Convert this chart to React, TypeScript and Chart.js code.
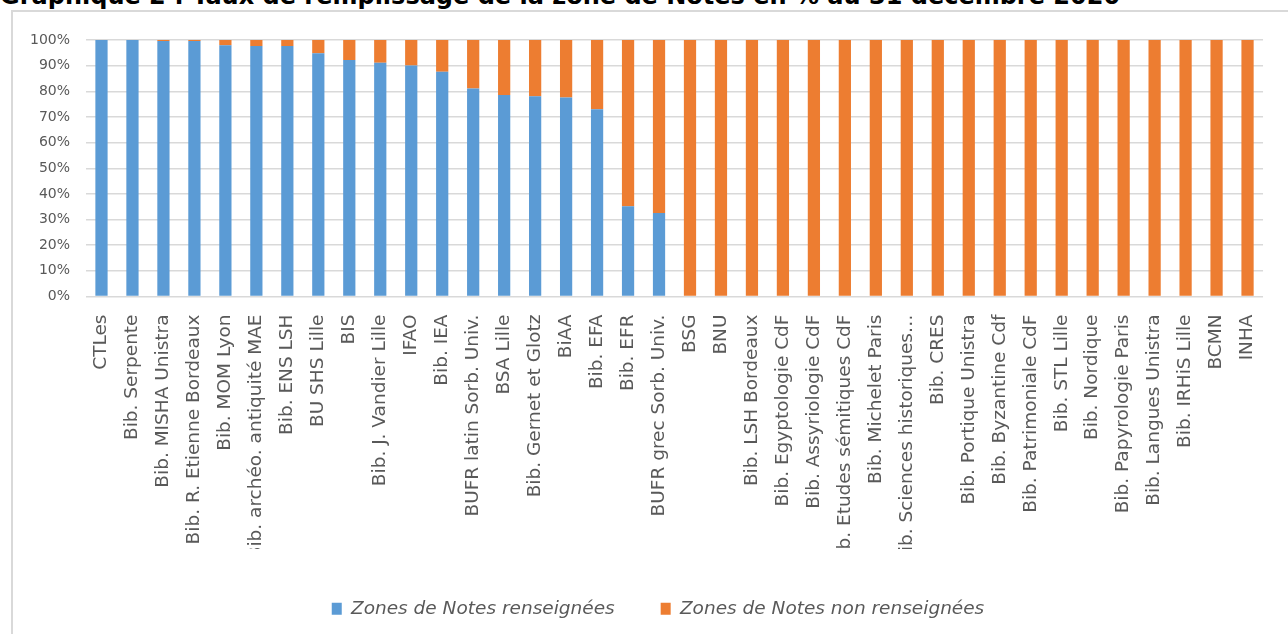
import React, { useEffect, useRef } from "react";
import { Chart, registerables } from "chart.js";

Chart.register(...registerables);

const TITLE = "Graphique 2 : Taux de remplissage de la zone de Notes en % au 31 décembre 2020";

const categories = [
  "CTLes",
  "Bib. Serpente",
  "Bib. MISHA Unistra",
  "Bib. R. Etienne Bordeaux",
  "Bib. MOM Lyon",
  "Bib. archéo. antiquité MAE",
  "Bib. ENS LSH",
  "BU SHS Lille",
  "BIS",
  "Bib. J. Vandier Lille",
  "IFAO",
  "Bib. IEA",
  "BUFR latin Sorb. Univ.",
  "BSA Lille",
  "Bib. Gernet et Glotz",
  "BiAA",
  "Bib. EFA",
  "Bib. EFR",
  "BUFR grec Sorb. Univ.",
  "BSG",
  "BNU",
  "Bib. LSH Bordeaux",
  "Bib. Egyptologie CdF",
  "Bib. Assyriologie CdF",
  "Bib. Etudes sémitiques CdF",
  "Bib. Michelet Paris",
  "Bib. Sciences historiques…",
  "Bib. CRES",
  "Bib. Portique Unistra",
  "Bib. Byzantine Cdf",
  "Bib. Patrimoniale CdF",
  "Bib. STL Lille",
  "Bib. Nordique",
  "Bib. Papyrologie Paris",
  "Bib. Langues Unistra",
  "Bib. IRHiS Lille",
  "BCMN",
  "INHA",
];

const renseignees = [
  100, 100, 99.6, 99.6, 98.0, 97.7, 97.7, 94.8, 92.2, 91.1, 90.1, 87.6, 81.1, 78.6, 78.1, 77.6, 73.0, 35.2, 32.6,
  0, 0, 0, 0, 0, 0, 0, 0, 0, 0, 0, 0, 0, 0, 0, 0, 0, 0, 0,
];

const nonRenseignees = [
  0, 0, 0.4, 0.4, 2.0, 2.3, 2.3, 5.2, 7.8, 8.9, 9.9, 12.4, 18.9, 21.4, 21.9, 22.4, 27.0, 64.8, 67.4,
  100, 100, 100, 100, 100, 100, 100, 100, 100, 100, 100, 100, 100, 100, 100, 100, 100, 100, 100,
];

const seriesNames = ["Zones de Notes renseignées", "Zones de Notes non renseignées"];
const yTicks = [0, 10, 20, 30, 40, 50, 60, 70, 80, 90, 100];

export default function App() {
  const canvasRef = useRef<HTMLCanvasElement | null>(null);

  useEffect(() => {
    const canvas = canvasRef.current;
    if (!canvas) return;
    const legendShift = {
      id: "legendShift",
      afterLayout(chart: any) {
        const lg = chart.legend;
        if (!lg) return;
        const target = 658;
        const d = target - (lg.left + lg.right) / 2;
        lg.left += d;
        lg.right += d;
      },
    };
    // the labels area is cut off at its lower edge, as in the original
    const labelClip = {
      id: "labelClip",
      afterDraw(chart: any) {
        const ctx = chart.ctx;
        const xs = chart.scales.x;
        ctx.save();
        ctx.fillStyle = "#ffffff";
        ctx.fillRect(xs.left, 549, xs.right - xs.left, 30);
        ctx.restore();
      },
    };
    const chart = new Chart(canvas, {
      type: "bar",
      data: {
        labels: categories,
        datasets: [
          {
            label: seriesNames[0],
            data: renseignees,
            backgroundColor: "#5B9BD5",
            barPercentage: 0.395,
            categoryPercentage: 1,
          },
          {
            label: seriesNames[1],
            data: nonRenseignees,
            backgroundColor: "#ED7D31",
            barPercentage: 0.395,
            categoryPercentage: 1,
          },
        ],
      },
      options: {
        responsive: false,
        animation: false,
        devicePixelRatio: 1,
        layout: { padding: { top: 40, right: 20, bottom: 6, left: 0 } },
        plugins: {
          title: { display: false },
          tooltip: { enabled: false },
          legend: {
            display: true,
            position: "bottom",
            labels: {
              boxWidth: 10,
              boxHeight: 12,
              padding: 46,
              color: "#595959",
              font: { family: "'DejaVu Sans'", size: 18.5, style: "italic" },
            },
          },
        },
        scales: {
          x: {
            stacked: true,
            offset: true,
            grid: { display: false, drawTicks: false },
            border: { display: false },
            ticks: {
              autoSkip: false,
              minRotation: 90,
              maxRotation: 90,
              padding: 18,
              color: "#595959",
              font: { family: "'DejaVu Sans'", size: 18.5 },
            },
            afterFit(scale: any) {
              scale.height = 257;
            },
          },
          y: {
            stacked: true,
            min: 0,
            max: 100,
            afterBuildTicks(scale: any) {
              scale.ticks = yTicks.map((v) => ({ value: v }));
            },
            grid: { color: "#d9d9d9", lineWidth: 1.5, drawTicks: false },
            border: { display: false },
            ticks: {
              padding: 16,
              color: "#595959",
              font: { family: "'DejaVu Sans'", size: 14 },
              callback: (v: any) => v + "%",
            },
            afterFit(scale: any) {
              scale.width = 86;
            },
          },
        },
      },
      plugins: [legendShift, labelClip],
    });
    return () => chart.destroy();
  }, []);

  return (
    <div style={{ position: "absolute", left: 0, top: 0, width: 1288, height: 634, overflow: "hidden", background: "#fff" }}>
      <div
        style={{
          position: "absolute",
          left: 0,
          top: -16,
          whiteSpace: "nowrap",
          fontFamily: "'DejaVu Sans'",
          fontWeight: "bold",
          fontSize: 24,
          lineHeight: "24px",
          color: "#000",
        }}
      >
        {TITLE}
      </div>
      <div
        style={{
          position: "absolute",
          left: 11,
          top: 10,
          width: 1400,
          height: 700,
          borderLeft: "2px solid #d9d9d9",
          borderTop: "2px solid #d9d9d9",
        }}
      />
      <canvas ref={canvasRef} width={1288} height={634} style={{ position: "absolute", left: 0, top: 0, width: 1288, height: 634 }} />
    </div>
  );
}
